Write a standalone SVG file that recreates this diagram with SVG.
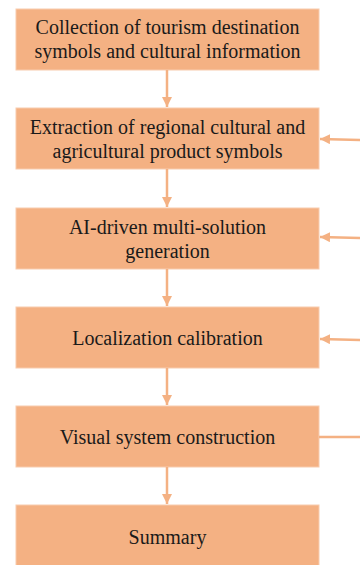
<svg xmlns="http://www.w3.org/2000/svg" width="360" height="565" viewBox="0 0 360 565">
<defs>
<marker id="ah" markerUnits="userSpaceOnUse" markerWidth="10" markerHeight="12" refX="10" refY="5" orient="auto">
<path d="M0,0 L10,5 L0,10 Z" fill="#F4B183"/>
</marker>
<style>
.box{fill:#F4B183;stroke:#F8CBAD;stroke-width:1}
.t{font-size:20px;fill:#1a1a1a;text-anchor:middle}
.c{stroke:#F4B183;stroke-width:2.5;fill:none}
</style>
</defs>
<rect width="360" height="565" fill="#fff"/>
<g font-family="Liberation Serif, Times New Roman, serif">
<g id="n1"><rect class="box" x="16" y="9" width="303" height="61"/><text class="t" x="167.5" y="34">Collection of tourism destination</text><text class="t" x="167.5" y="58">symbols and cultural information</text></g>
<g id="n2"><rect class="box" x="16" y="108" width="303" height="61"/><text class="t" x="167.5" y="134">Extraction of regional cultural and</text><text class="t" x="167.5" y="158">agricultural product symbols</text></g>
<g id="n3"><rect class="box" x="16" y="208" width="303" height="61"/><text class="t" x="167.5" y="234">AI-driven multi-solution</text><text class="t" x="167.5" y="258">generation</text></g>
<g id="n4"><rect class="box" x="16" y="307" width="303" height="61"/><text class="t" x="167.5" y="345">Localization calibration</text></g>
<g id="n5"><rect class="box" x="16" y="406" width="303" height="61"/><text class="t" x="167.5" y="444">Visual system construction</text></g>
<g id="n6"><rect class="box" x="16" y="505" width="303" height="62"/><text class="t" x="167.5" y="544">Summary</text></g>
</g>
<g id="connectors">
<line class="c" x1="167" y1="70" x2="167" y2="107" marker-end="url(#ah)"/>
<line class="c" x1="167" y1="169" x2="167" y2="207" marker-end="url(#ah)"/>
<line class="c" x1="167" y1="269" x2="167" y2="306" marker-end="url(#ah)"/>
<line class="c" x1="167" y1="368" x2="167" y2="405" marker-end="url(#ah)"/>
<line class="c" x1="167" y1="467" x2="167" y2="504" marker-end="url(#ah)"/>
<line class="c" x1="362" y1="140" x2="320" y2="139" marker-end="url(#ah)"/>
<line class="c" x1="362" y1="238" x2="320" y2="237" marker-end="url(#ah)"/>
<line class="c" x1="362" y1="340" x2="320" y2="339" marker-end="url(#ah)"/>
<line class="c" x1="319" y1="437" x2="362" y2="437"/>
</g>
</svg>
